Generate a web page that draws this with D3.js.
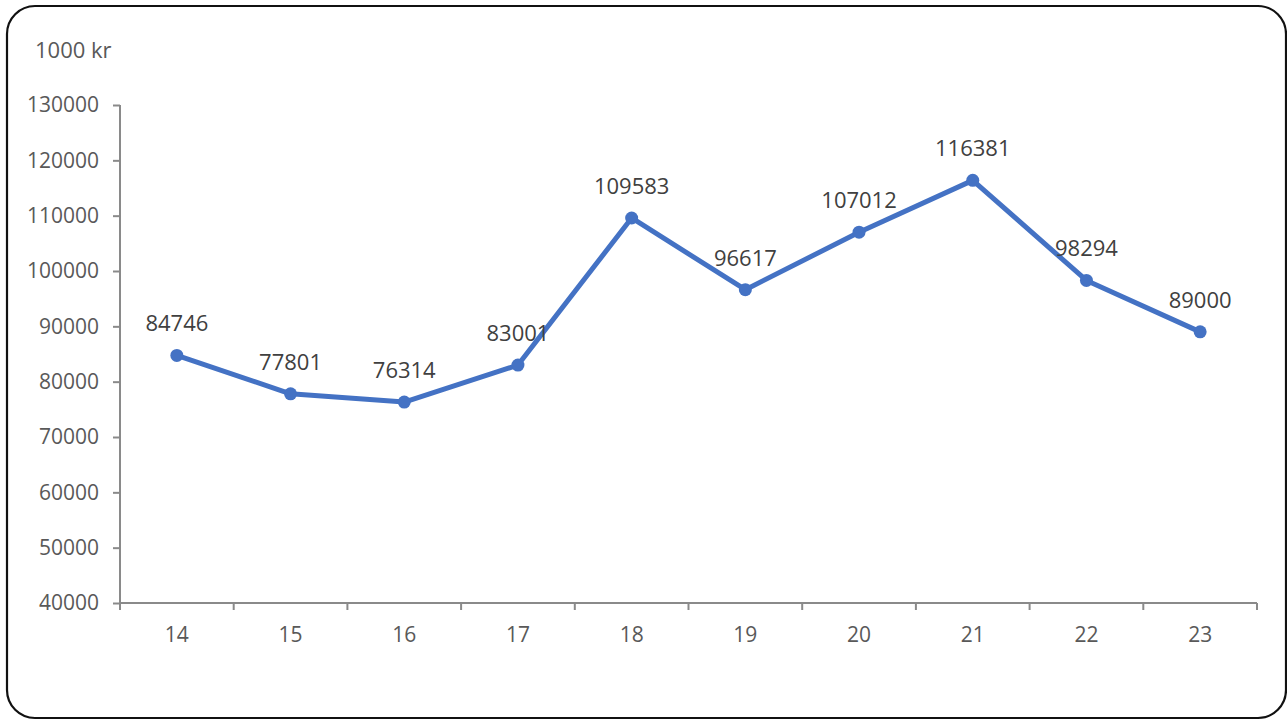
<!DOCTYPE html>
<html><head><meta charset="utf-8">
<script src="https://cdn.jsdelivr.net/npm/d3@7"></script>
<style>
html,body{margin:0;padding:0;background:#fff;}
svg{display:block;font-family:"Open Sans",sans-serif;}
</style></head>
<body>
<svg id="chart" width="1287" height="720"></svg>
<script>
const categories = ["14","15","16","17","18","19","20","21","22","23"];
const values = [84746, 77801, 76314, 83001, 109583, 96617, 107012, 116381, 98294, 89000];
const yTicks = [40000,50000,60000,70000,80000,90000,100000,110000,120000,130000];
const unitLabel = "1000 kr";

(function(){
const svg = d3.select("#chart");
svg.append("rect").attr("x",7).attr("y",6).attr("width",1279).attr("height",712)
  .attr("rx",28).attr("ry",28).attr("fill","#fff").attr("stroke","#111").attr("stroke-width",2.2);

const pl = 120, pr = 1257, pt = 105, pb = 603;
const x = d3.scaleBand().domain(categories).range([pl,pr]).padding(0);
const y = d3.scaleLinear().domain([40000,130000]).range([pb,pt]);

const axisColor = "#8a8a8a", textColor = "#595959";

const yAxis = svg.append("g").attr("transform",`translate(${pl},0)`)
  .call(d3.axisLeft(y).tickValues(yTicks).tickSize(7).tickPadding(14).tickFormat(d3.format("d")));
const xAxis = svg.append("g").attr("transform",`translate(0,${pb})`)
  .call(d3.axisBottom(x).tickSize(0).tickPadding(24));
const bounds = categories.map(c=>x(c)).concat([pr]);
xAxis.selectAll(".bt").data(bounds).enter().append("line").attr("class","bt")
  .attr("x1",d=>d).attr("x2",d=>d).attr("y1",0).attr("y2",7);

[yAxis,xAxis].forEach(g=>{
  g.selectAll("path,line").attr("stroke",axisColor).attr("stroke-width",2);
  g.selectAll("text").attr("fill",textColor).style("font-size","21px").style("font-family","'Open Sans',sans-serif");
});
yAxis.select(".domain").attr("d",`M0,${pt}V${pb}`);
xAxis.select(".domain").attr("d",`M${pl},0H${pr}`);
xAxis.selectAll(".tick text").attr("dy","0.71em");

svg.append("text").attr("x",35).attr("y",58).text(unitLabel)
  .attr("fill",textColor).style("font-size","22px");

const pts = categories.map((c,i)=>({c,v:values[i]}));
const line = d3.line().x(d=>x(d.c)+x.bandwidth()/2).y(d=>y(d.v));
svg.append("path").datum(pts).attr("d",line).attr("fill","none")
  .attr("stroke","#4472C4").attr("stroke-width",5).attr("stroke-linejoin","round");
svg.selectAll(".pt").data(pts).enter().append("circle")
  .attr("cx",d=>x(d.c)+x.bandwidth()/2).attr("cy",d=>y(d.v)).attr("r",6.5).attr("fill","#4472C4");
svg.selectAll(".lbl").data(pts).enter().append("text")
  .attr("x",d=>x(d.c)+x.bandwidth()/2).attr("y",d=>y(d.v)-24)
  .attr("text-anchor","middle").attr("fill","#404040").style("font-size","22px")
  .text(d=>d.v);
})();
</script>
</body></html>
